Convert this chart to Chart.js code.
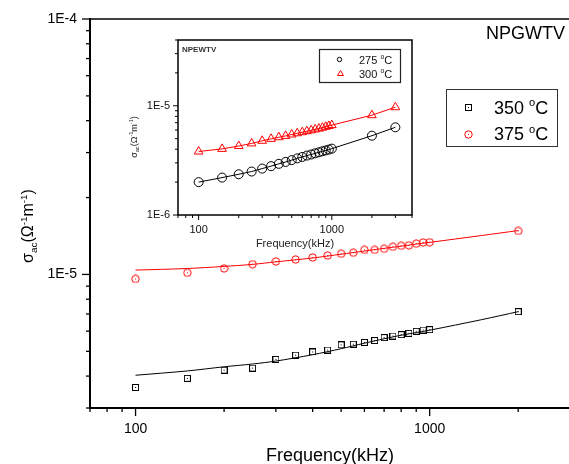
<!DOCTYPE html>
<html><head><meta charset="utf-8">
<script src="https://cdn.jsdelivr.net/npm/chart.js@4.4.0/dist/chart.umd.min.js"></script>
<style>
html,body{margin:0;padding:0;background:#fff;width:569px;height:464px;overflow:hidden;position:relative}
#main{position:absolute;left:0;top:0}
#inset{position:absolute;left:120px;top:30px}
</style></head><body>
<canvas id="main" width="600" height="464"></canvas>
<canvas id="inset" width="300" height="230"></canvas>
<script>
const FONT = '"Liberation Sans", Arial, Helvetica, sans-serif';

// ---------- main chart data ----------
const freqMain = [100,150,200,250,300,350,400,450,500,550,600,650,700,750,800,850,900,950,1000,2000];
const sigma350 = [3.61e-6,3.92e-6,4.22e-6,4.30e-6,4.65e-6,4.83e-6,4.97e-6,5.06e-6,5.30e-6,5.33e-6,5.42e-6,5.51e-6,5.66e-6,5.74e-6,5.81e-6,5.88e-6,5.99e-6,6.06e-6,6.08e-6,7.15e-6];
const sigma375 = [9.6e-6,1.015e-5,1.055e-5,1.097e-5,1.124e-5,1.144e-5,1.165e-5,1.186e-5,1.205e-5,1.216e-5,1.248e-5,1.248e-5,1.26e-5,1.283e-5,1.295e-5,1.30e-5,1.32e-5,1.334e-5,1.337e-5,1.48e-5];
const fitFreq = [100,150,200,250,300,400,500,600,700,800,900,1000,1500,2000];
const fit350 = [4.03e-6,4.19e-6,4.35e-6,4.46e-6,4.58e-6,4.85e-6,5.12e-6,5.38e-6,5.60e-6,5.78e-6,5.92e-6,6.05e-6,6.65e-6,7.15e-6];
const fit375 = [1.04e-5,1.055e-5,1.075e-5,1.095e-5,1.12e-5,1.16e-5,1.20e-5,1.235e-5,1.265e-5,1.29e-5,1.315e-5,1.335e-5,1.42e-5,1.485e-5];
const mainTemps = ['350','375'];
const mainXLabels = [100,1000];
const mainTitle = 'NPGWTV';

// ---------- inset data ----------
const freqInset = [100,150,200,250,300,350,400,450,500,550,600,650,700,750,800,850,900,950,1000,2000,3000];
const sigma275 = [2.00e-6,2.20e-6,2.36e-6,2.50e-6,2.66e-6,2.80e-6,2.94e-6,3.06e-6,3.18e-6,3.30e-6,3.40e-6,3.50e-6,3.58e-6,3.67e-6,3.75e-6,3.83e-6,3.90e-6,3.97e-6,4.05e-6,5.32e-6,6.35e-6];
const sigma300 = [3.81e-6,4.03e-6,4.28e-6,4.52e-6,4.78e-6,4.98e-6,5.15e-6,5.30e-6,5.46e-6,5.60e-6,5.73e-6,5.85e-6,5.96e-6,6.07e-6,6.18e-6,6.30e-6,6.42e-6,6.53e-6,6.65e-6,8.20e-6,9.70e-6];
const insetTemps = ['275','300'];
const insetXLabels = [100,1000];
const insetTitle = 'NPEWTV';

const xTitle = 'Frequency(kHz)';
const yTitleSegs = [{t:'σ'},{t:'ac',sub:true},{t:'(Ω'},{t:'-1',sup:true},{t:'m'},{t:'-1',sup:true},{t:')'}];

// ---------- helpers ----------
function isPow10(v){ const l=Math.log10(v); return Math.abs(l-Math.round(l))<1e-6; }
function isIntSig(v){ const e=Math.floor(Math.log10(v)+1e-9); const r=v/Math.pow(10,e); return Math.abs(r-Math.round(r))<1e-6; }
function expLabel(v){ return isPow10(v) ? '1E' + Math.round(Math.log10(v)) : ''; }
function drawRich(ctx, segs, x, y, size, align, color){
  ctx.save(); ctx.fillStyle=color||'#000'; ctx.textBaseline='alphabetic'; ctx.textAlign='left';
  const fsz = s => (s.sub||s.sup) ? size*0.62 : size;
  let w=0; segs.forEach(s=>{ ctx.font=(s.bold?'bold ':'')+fsz(s)+'px '+FONT; w+=ctx.measureText(s.t).width; });
  let cx = align==='center' ? x-w/2 : align==='right' ? x-w : x;
  segs.forEach(s=>{
    ctx.font=(s.bold?'bold ':'')+fsz(s)+'px '+FONT;
    const dy = s.sup ? -size*0.4 : s.sub ? size*0.25 : 0;
    ctx.fillText(s.t, cx, y+dy); cx += ctx.measureText(s.t).width;
  });
  ctx.restore();
}
function makeMarker(kind, color, s, r){
  const c=document.createElement('canvas'); c.width=s; c.height=s;
  const g=c.getContext('2d'); g.strokeStyle=color; g.fillStyle=color; g.lineWidth=1;
  if(kind==='square'){ g.strokeRect(0.5,0.5,s-1,s-1); }
  else { g.beginPath(); g.arc(s/2,s/2,r,0,Math.PI*2); g.stroke(); }
  const m=Math.floor(s/2); g.fillRect(m,m,1,1);
  return c;
}
function drawTickMarks(chart, id, majL, minL, lw){
  const sc=chart.scales[id], a=chart.chartArea, ctx=chart.ctx;
  ctx.save(); ctx.strokeStyle='#000'; ctx.lineWidth=lw;
  sc.ticks.forEach(t=>{
    const p=sc.getPixelForValue(t.value); const L=isPow10(t.value)?majL:minL;
    ctx.beginPath();
    if(sc.axis==='x'){ ctx.moveTo(p,a.bottom); ctx.lineTo(p,a.bottom+L); }
    else { ctx.moveTo(a.left,p); ctx.lineTo(a.left-L,p); }
    ctx.stroke();
  });
  ctx.restore();
}
const keepIntTicks = s => { s.ticks = s.ticks.filter(t=>isIntSig(t.value)); };

const sqImg = makeMarker('square','#000',7);
const ciImg = makeMarker('circle','#ff0000',9,3.7);

// ---------- main chart ----------
const mainPlugin = {
  id:'mainExtras',
  afterDraw(chart){
    const ctx=chart.ctx, a=chart.chartArea;
    drawTickMarks(chart,'x',8,4,1.3);
    drawTickMarks(chart,'y',8,4,1.3);
    ctx.save(); ctx.strokeStyle='#000'; ctx.lineWidth=1.5;
    ctx.beginPath(); ctx.moveTo(a.left,a.top); ctx.lineTo(a.right,a.top); ctx.stroke();
    ctx.restore();
    // title
    ctx.save(); ctx.fillStyle='#000'; ctx.font='18px '+FONT; ctx.textAlign='right'; ctx.textBaseline='alphabetic';
    ctx.fillText(mainTitle, 565, 39); ctx.restore();
    // axis titles
    drawRich(ctx,[{t:xTitle}], (a.left+a.right)/2, 461, 18, 'center');
    ctx.save(); ctx.translate(33,226); ctx.rotate(-Math.PI/2);
    drawRich(ctx, yTitleSegs, 0, 0, 16, 'center'); ctx.restore();
    // legend
    ctx.save(); ctx.strokeStyle='#333'; ctx.lineWidth=1; ctx.strokeRect(446.5,89.5,111,57); ctx.restore();
    const imgs=[sqImg,ciImg], ys=[107.5,134];
    mainTemps.forEach((tp,i)=>{
      ctx.drawImage(imgs[i], Math.round(468-imgs[i].width/2), Math.round(ys[i]-imgs[i].height/2));
      drawRich(ctx,[{t:tp+' '},{t:'o',sup:true},{t:'C'}], 494, ys[i]+6, 18, 'left');
    });
  }
};

new Chart(document.getElementById('main'), {
  type:'scatter',
  data:{datasets:[
    {label:mainTemps[0]+' °C', data:freqMain.map((f,i)=>({x:f,y:sigma350[i]})), pointStyle:sqImg, showLine:false, pointRadius:4},
    {label:mainTemps[1]+' °C', data:freqMain.map((f,i)=>({x:f,y:sigma375[i]})), pointStyle:ciImg, showLine:false, pointRadius:4},
    {label:'fit 350', data:fitFreq.map((f,i)=>({x:f,y:fit350[i]})), showLine:true, pointRadius:0, borderColor:'#000', borderWidth:1, tension:0.3},
    {label:'fit 375', data:fitFreq.map((f,i)=>({x:f,y:fit375[i]})), showLine:true, pointRadius:0, borderColor:'#ff0000', borderWidth:1, tension:0.3}
  ]},
  options:{
    responsive:false, animation:false, devicePixelRatio:1,
    layout:{padding:{left:0,top:19,right:30,bottom:0}},
    plugins:{legend:{display:false}, tooltip:{enabled:false}},
    scales:{
      x:{type:'logarithmic', min:70, max:3000, afterFit(s){s.height=56;}, afterBuildTicks:keepIntTicks,
         grid:{display:true,drawOnChartArea:false,drawTicks:true,tickLength:8,color:'rgba(0,0,0,0)'},
         border:{display:true,color:'#000',width:2},
         ticks:{autoSkip:false,maxRotation:0,padding:5,color:'#000',font:{family:FONT,size:14},
                callback:v=>mainXLabels.includes(Math.round(v))&&isPow10(v)?String(Math.round(v)):''}},
      y:{type:'logarithmic', min:3e-6, max:1e-4, afterFit(s){s.width=90;}, afterBuildTicks:keepIntTicks,
         grid:{display:true,drawOnChartArea:false,drawTicks:true,tickLength:8,color:'rgba(0,0,0,0)'},
         border:{display:true,color:'#000',width:2},
         ticks:{autoSkip:false,padding:5,color:'#000',font:{family:FONT,size:14},callback:v=>expLabel(v)}}
    }
  },
  plugins:[mainPlugin]
});

// ---------- inset chart ----------
const insetPlugin = {
  id:'insetExtras',
  beforeDraw(chart){
    const ctx=chart.ctx,a=chart.chartArea;
    ctx.save(); ctx.fillStyle='#fff'; ctx.fillRect(a.left,a.top,a.right-a.left,a.bottom-a.top); ctx.restore();
  },
  afterDraw(chart){
    const ctx=chart.ctx,a=chart.chartArea;
    drawTickMarks(chart,'x',5,3,1);
    drawTickMarks(chart,'y',5,3,1);
    ctx.save(); ctx.strokeStyle='#000'; ctx.lineWidth=1.5;
    ctx.strokeRect(a.left,a.top,a.right-a.left,a.bottom-a.top); ctx.restore();
    drawRich(ctx,[{t:insetTitle,bold:true}], a.left+4, a.top+12, 8, 'left', '#333');
    drawRich(ctx,[{t:xTitle}], (a.left+a.right)/2, 217, 11, 'center', '#222');
    ctx.save(); ctx.translate(17,107); ctx.rotate(-Math.PI/2);
    drawRich(ctx, yTitleSegs, 0, 0, 9, 'center', '#222'); ctx.restore();
    // legend
    ctx.save(); ctx.strokeStyle='#222'; ctx.lineWidth=1.2; ctx.strokeRect(199.5,19.5,81,33); ctx.restore();
    const ys=[29.5,43.5];
    ctx.save(); ctx.lineWidth=1;
    ctx.strokeStyle='#000'; ctx.beginPath(); ctx.arc(219.5,ys[0],2.2,0,Math.PI*2); ctx.stroke();
    ctx.strokeStyle='#ff0000'; ctx.beginPath();
    ctx.moveTo(220.5,ys[1]-3); ctx.lineTo(223.5,ys[1]+2); ctx.lineTo(217.5,ys[1]+2); ctx.closePath(); ctx.stroke();
    ctx.restore();
    insetTemps.forEach((tp,i)=>{
      drawRich(ctx,[{t:tp+' '},{t:'o',sup:true},{t:'C'}], 239, ys[i]+4, 11, 'left', '#111');
    });
  }
};

new Chart(document.getElementById('inset'), {
  type:'scatter',
  data:{datasets:[
    {label:insetTemps[0]+' °C', data:freqInset.map((f,i)=>({x:f,y:sigma275[i]})), showLine:true, pointStyle:'circle', pointRadius:4.5,
     borderColor:'#000', borderWidth:1, pointBorderWidth:1, pointBackgroundColor:'rgba(0,0,0,0)', backgroundColor:'rgba(0,0,0,0)'},
    {label:insetTemps[1]+' °C', data:freqInset.map((f,i)=>({x:f,y:sigma300[i]})), showLine:true, pointStyle:'triangle', pointRadius:5,
     borderColor:'#ff0000', borderWidth:1, pointBorderWidth:1, pointBackgroundColor:'rgba(0,0,0,0)', backgroundColor:'rgba(0,0,0,0)'}
  ]},
  options:{
    responsive:false, animation:false, devicePixelRatio:1,
    layout:{padding:{left:0,top:10,right:8,bottom:0}},
    plugins:{legend:{display:false}, tooltip:{enabled:false}},
    scales:{
      x:{type:'logarithmic', min:70, max:4000, afterFit(s){s.height=45;}, afterBuildTicks:keepIntTicks,
         grid:{display:true,drawOnChartArea:false,drawTicks:true,tickLength:5,color:'rgba(0,0,0,0)'},
         border:{display:false},
         ticks:{autoSkip:false,maxRotation:0,padding:3,color:'#111',font:{family:FONT,size:11},
                callback:v=>insetXLabels.includes(Math.round(v))&&isPow10(v)?String(Math.round(v)):''}},
      y:{type:'logarithmic', min:1e-6, max:4e-5, afterFit(s){s.width=58;}, afterBuildTicks:keepIntTicks,
         grid:{display:true,drawOnChartArea:false,drawTicks:true,tickLength:5,color:'rgba(0,0,0,0)'},
         border:{display:false},
         ticks:{autoSkip:false,padding:3,color:'#111',font:{family:FONT,size:11},callback:v=>expLabel(v)}}
    }
  },
  plugins:[insetPlugin]
});
</script>
</body></html>
